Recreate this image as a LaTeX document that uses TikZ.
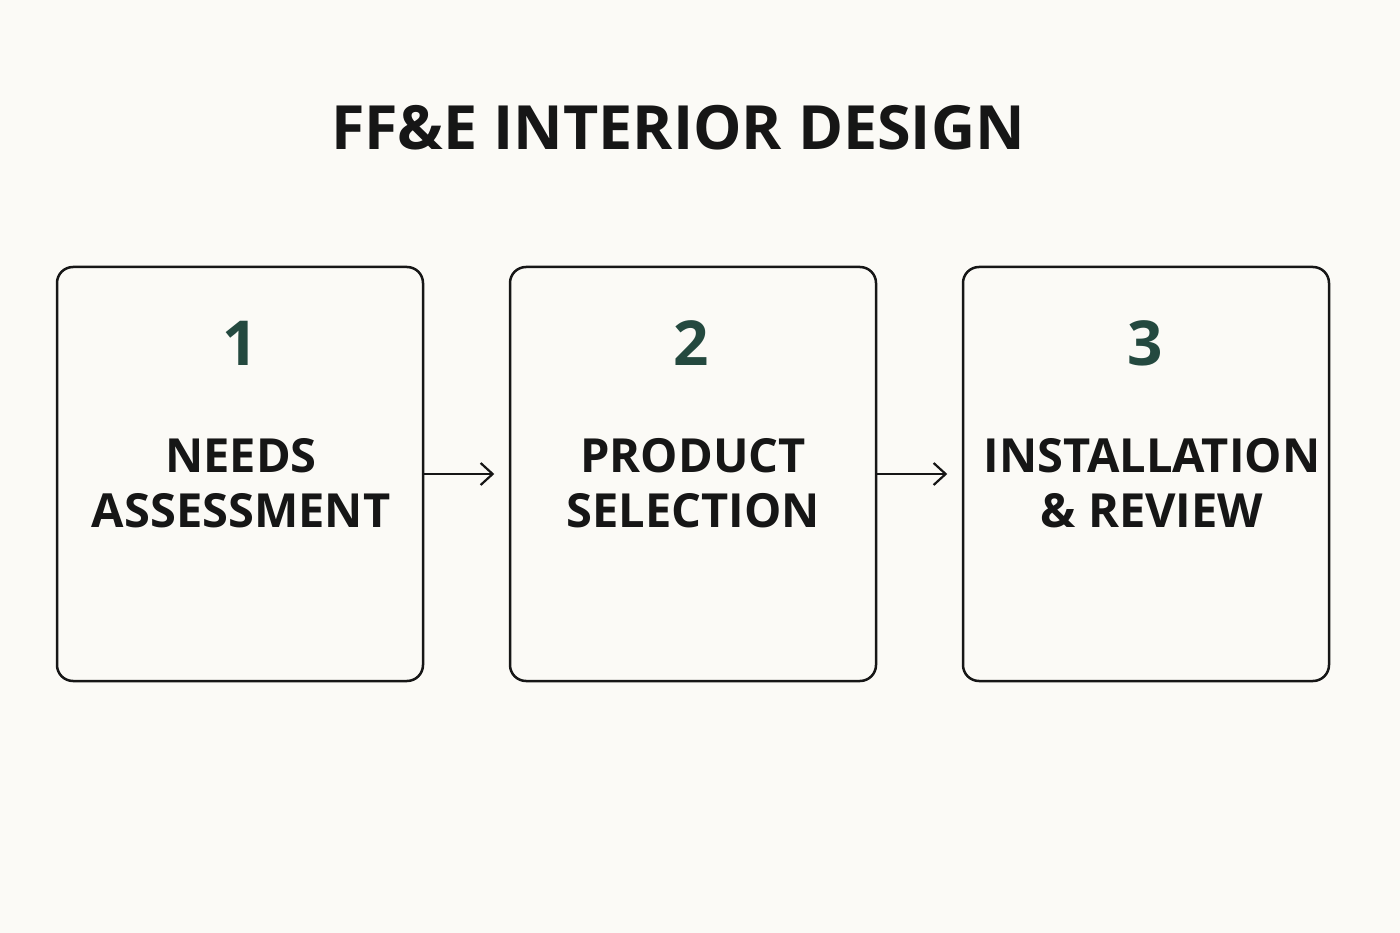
\documentclass[tikz,border=0pt]{standalone}
\usepackage{fontspec}
\setmainfont{Open Sans}
\usetikzlibrary{arrows.meta}
\definecolor{bg}{HTML}{FBFAF6}
\definecolor{ink}{HTML}{161616}
\definecolor{num}{HTML}{24493F}
\begin{document}
\begin{tikzpicture}[x=1pt,y=-1pt,
  box/.style={draw=ink,line width=2.5pt,rounded corners=16pt,minimum width=366pt,minimum height=414pt,inner sep=0pt},
  numl/.style={text=num,font=\fontsize{62}{62}\selectfont\bfseries},
  lab/.style={text=ink,font=\fontsize{47}{55}\selectfont\bfseries,align=center},
  arr/.style={draw=ink,line width=2.2pt,-{Straight Barb[length=12pt,width=22pt,line width=2.2pt]}}]
\fill[bg] (0,0) rectangle (1400,933);
\useasboundingbox (0,0) rectangle (1400,933);
\node[text=ink,font=\fontsize{61}{61}\selectfont\bfseries] (title) at (678,128) {FF\&E INTERIOR DESIGN};
\node[box] (b1) at (240,474) {};
\node[box] (b2) at (693,474) {};
\node[box] (b3) at (1146,474) {};
\node[numl] (n1) at (240,343) {1};
\node[numl] (n2) at (691,343) {2};
\node[numl] (n3) at (1145,343) {3};
\node[lab] (l1) at (241,483) {NEEDS\\ASSESSMENT};
\node[lab] (l2) at (693,483) {PRODUCT\\SELECTION};
\node[lab] (l3) at (1152,483) {INSTALLATION\\\& REVIEW};
\draw[arr] (b1.east) -- ([xshift=70pt]b1.east);
\draw[arr] (b2.east) -- ([xshift=70pt]b2.east);
\end{tikzpicture}
\end{document}
